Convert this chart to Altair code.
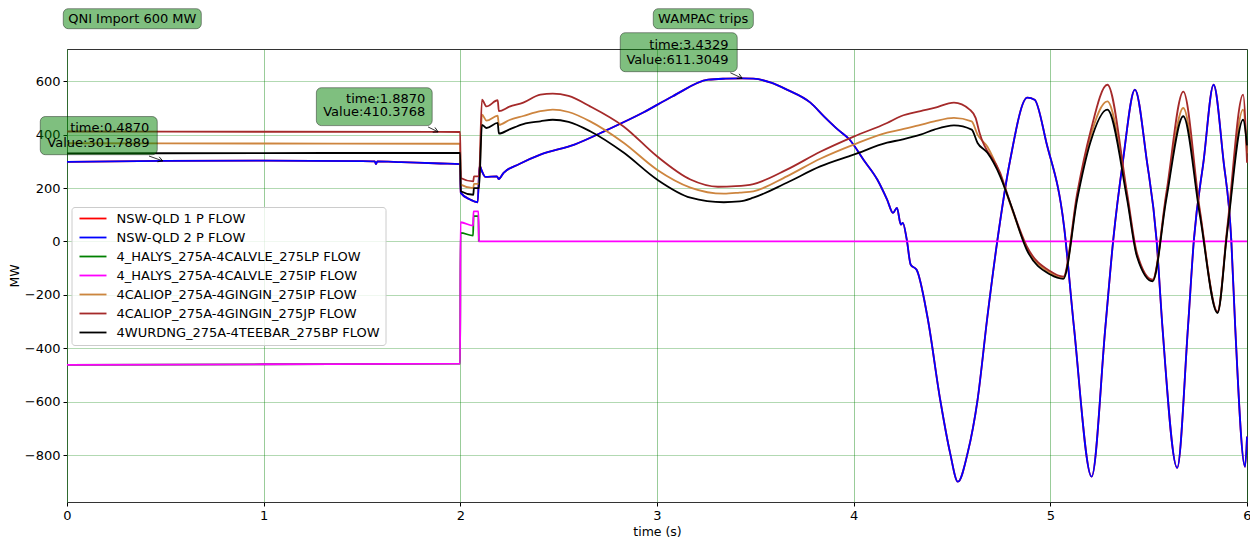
import altair as alt
import pandas as pd

# ---------------- series names and colours ----------------
SERIES = [
    "NSW-QLD 1 P FLOW",
    "NSW-QLD 2 P FLOW",
    "4_HALYS_275A-4CALVLE_275LP FLOW",
    "4_HALYS_275A-4CALVLE_275IP FLOW",
    "4CALIOP_275A-4GINGIN_275IP FLOW",
    "4CALIOP_275A-4GINGIN_275JP FLOW",
    "4WURDNG_275A-4TEEBAR_275BP FLOW",
]
COLORS = ["#ff0000", "#0000ff", "#008000", "#ff00ff", "#cd853f", "#a52a2a", "#000000"]

X_TICKS = [0, 1, 2, 3, 4, 5, 6]
Y_TICKS = [-800, -600, -400, -200, 0, 200, 400, 600]

# ---------------- values ----------------
T_BLUE = [0.0, 0.487, 1.0, 1.5, 1.565, 1.571, 1.578, 1.7, 1.9, 1.999, 2.002, 2.05, 2.088, 2.098,
          2.11, 2.127, 2.186, 2.195, 2.22, 2.3, 2.407, 2.58, 2.75, 2.93, 3.08, 3.26, 3.35, 3.4329,
          3.49, 3.58, 3.66, 3.78, 3.85, 3.92, 3.98, 4.05, 4.12, 4.17, 4.2, 4.22, 4.24, 4.25, 4.27,
          4.29, 4.32, 4.375, 4.44, 4.49, 4.53, 4.58, 4.63, 4.68, 4.73, 4.796, 4.883, 4.92, 4.98,
          5.07, 5.12, 5.21, 5.28, 5.32, 5.37, 5.43, 5.49, 5.54, 5.57, 5.645, 5.70, 5.73, 5.78,
          5.83, 5.88, 5.92, 5.94, 5.99, 6.0]
V_BLUE = [298, 301.8, 303, 301, 300, 290, 300, 297, 292, 290, 182, 157, 147, 284,
          263, 242, 244, 234, 257, 290, 325, 363, 419, 483, 544, 606, 610, 611.3,
          610, 595, 569, 520, 468, 419, 381, 306, 232, 157, 107, 126, 63, 70, 7,
          -87, -106, -282, -593, -791, -900, -791, -593, -282, 0, 306, 539, 531, 370,
          55, -320, -881, -320, 7, 306, 569, 306, 7, -320, -848, -320, 7, 306,
          587, 306, 7, -320, -844, -731]

# NSW-QLD 1 lies under NSW-QLD 2 everywhere in the picture
T_RED = list(T_BLUE)
V_RED = list(V_BLUE)

# after ~2.09 s this flow sits at 0, hidden under the IP flow
T_GREEN = [0.0, 1.0, 1.999, 2.001, 2.065, 2.067, 2.092, 2.094]
V_GREEN = [-462, -460, -458, 32, 22, 95, 95, 0]

T_MAGENTA = [0.0, 1.0, 1.999, 2.001, 2.065, 2.067, 2.092, 2.094, 6.0]
V_MAGENTA = [-462, -460, -458, 72, 59, 113, 113, 0, 0]

T_ORANGE = [0.0, 1.0, 1.999, 2.002, 2.066, 2.069, 2.095, 2.11, 2.133, 2.19, 2.196, 2.25, 2.32,
            2.407, 2.47, 2.55, 2.66, 2.83, 3.0, 3.17, 3.34, 3.42, 3.49, 3.66, 3.83, 4.0, 4.17,
            4.24, 4.34, 4.41, 4.51, 4.6, 4.63, 4.68, 4.745, 4.796, 4.88, 5.0, 5.066, 5.137,
            5.203, 5.29, 5.39, 5.44, 5.52, 5.59, 5.676, 5.76, 5.85, 5.9, 5.98, 6.0]
V_ORANGE = [368, 367, 366, 213, 200, 216, 216, 475, 453, 471, 437, 455, 470,
            488, 494, 485, 450, 370, 269, 202, 179, 183, 188, 244, 310, 363, 408,
            419, 437, 450, 463, 450, 400, 355, 250, 140, -25, -118, -137, 170,
            390, 525, 170, -50, -146, 170, 500, 110, -265, 45, 494, 330]

T_BROWN = [0.0, 1.0, 1.887, 1.999, 2.002, 2.066, 2.069, 2.095, 2.11, 2.133, 2.19, 2.196, 2.25,
           2.32, 2.407, 2.47, 2.55, 2.66, 2.83, 3.0, 3.17, 3.31, 3.40, 3.49, 3.66, 3.83, 4.0,
           4.17, 4.24, 4.34, 4.41, 4.51, 4.59, 4.62, 4.64, 4.745, 4.796, 4.88, 5.0, 5.066,
           5.137, 5.203, 5.29, 5.39, 5.44, 5.52, 5.59, 5.676, 5.76, 5.85, 5.9, 5.98, 6.0]
V_BROWN = [412, 411, 410.4, 410, 238, 225, 244, 244, 531, 506, 529, 488, 505,
           520, 550, 554, 545, 506, 431, 319, 232, 205, 207, 215, 269, 336, 393,
           444, 469, 488, 500, 520, 494, 463, 407, 257, 145, -18, -112, -132,
           183, 408, 587, 183, -42, -143, 183, 561, 119, -263, 55, 550, 295]

T_BLACK = list(T_ORANGE)
V_BLACK = [330, 331, 332, 188, 175, 200, 200, 437, 425, 444, 404, 420, 440,
           450, 456, 448, 413, 333, 232, 164, 147, 150, 164, 220, 281, 325, 370,
           381, 400, 419, 435, 419, 369, 332, 244, 144, -31, -124, -140, 160,
           370, 494, 160, -55, -149, 160, 469, 100, -268, 40, 456, 360]

SERIES_DATA = [
    (SERIES[0], T_RED, V_RED),
    (SERIES[1], T_BLUE, V_BLUE),
    (SERIES[2], T_GREEN, V_GREEN),
    (SERIES[3], T_MAGENTA, V_MAGENTA),
    (SERIES[4], T_ORANGE, V_ORANGE),
    (SERIES[5], T_BROWN, V_BROWN),
    (SERIES[6], T_BLACK, V_BLACK),
]

rows = []
for name, ts, vs in SERIES_DATA:
    assert len(ts) == len(vs), name
    for t, v in zip(ts, vs):
        rows.append({"series": name, "t": t, "v": v})
df = pd.DataFrame(rows)

# ---------------- annotations ----------------
boxes = pd.DataFrame({
    "t1": [-0.136, 1.268, 2.813, -0.019, 2.981],
    "t2": [0.459, 1.857, 3.408, 0.683, 3.490],
    "v1": [325, 434, 636, 797, 797],
    "v2": [468, 576, 782, 872, 872],
})

labels_right = pd.DataFrame({
    "text": ["time:0.4870", "Value:301.7889", "time:1.8870", "Value:410.3768",
             "time:3.4329", "Value:611.3049"],
    "t": [0.419, 0.419, 1.822, 1.822, 3.364, 3.364],
    "v": [426, 370, 534, 484, 737, 681],
})
labels_center = pd.DataFrame({
    "text": ["QNI Import 600 MW", "WAMPAC trips"],
    "t": [0.332, 3.235],
    "v": [835, 835],
})
arrows = pd.DataFrame({
    "t1": [0.417, 1.836, 3.373],
    "v1": [320, 429, 632],
    "t2": [0.487, 1.887, 3.4329],
    "v2": [301.8, 410.4, 611.3],
    "ang": [19.5, 26, 27],
})

FONT = "DejaVu Sans"

X_SCALE = alt.Scale(domain=[0, 6], nice=False, zero=False)
Y_SCALE = alt.Scale(domain=[-976, 721], nice=False, zero=False)
X_AXIS = alt.Axis(title="time (s)", values=X_TICKS, format="d", labelFlush=False,
                  gridColor="green", gridOpacity=0.4, titlePadding=3)
Y_AXIS = alt.Axis(title="MW", values=Y_TICKS, gridColor="green", gridOpacity=0.3,
                  domainColor="#2f6a2f", titlePadding=3)

LEGEND = alt.Legend(
    title=None, orient="none", legendX=4.5, legendY=158,
    symbolType="M-0.78,0H5.22", symbolSize=81, symbolStrokeWidth=1.8,
    labelFont=FONT, labelFontSize=13, labelOffset=27, labelLimit=500,
    rowPadding=5, padding=5, fillColor="rgba(255,255,255,0.8)",
    strokeColor="#cccccc", cornerRadius=3,
)
COLOR = alt.Color("series:N", scale=alt.Scale(domain=SERIES, range=COLORS), legend=LEGEND)


def X(field):
    return alt.X(f"{field}:Q", scale=X_SCALE, axis=X_AXIS)


def Y(field):
    return alt.Y(f"{field}:Q", scale=Y_SCALE, axis=Y_AXIS)


layers = []
for name in SERIES:
    layers.append(
        alt.Chart(df)
        .transform_filter(alt.datum.series == name)
        .mark_line(interpolate="monotone", strokeWidth=1.8)
        .encode(x=X("t"), y=Y("v"), color=COLOR, order=alt.Order("t:Q"))
    )

layers.append(
    alt.Chart(boxes)
    .mark_rect(fill="green", fillOpacity=0.5, stroke="black", strokeOpacity=0.4,
               strokeWidth=1, cornerRadius=5)
    .encode(x=X("t1"), x2="t2", y=Y("v1"), y2="v2")
)
layers.append(
    alt.Chart(arrows)
    .mark_rule(color="black", strokeWidth=0.8)
    .encode(x=X("t1"), x2="t2", y=Y("v1"), y2="v2")
)
layers.append(
    alt.Chart(arrows)
    .mark_point(shape="M-1,-0.55L0,0L-1,0.55", filled=False, color="black",
                strokeWidth=0.8, size=90, opacity=1)
    .encode(x=X("t2"), y=Y("v2"), angle=alt.Angle("ang:Q", scale=None))
)
layers.append(
    alt.Chart(labels_right)
    .mark_text(align="right", baseline="middle", font=FONT, fontSize=13, color="black")
    .encode(x=X("t"), y=Y("v"), text="text:N")
)
layers.append(
    alt.Chart(labels_center)
    .mark_text(align="center", baseline="middle", font=FONT, fontSize=13, color="black")
    .encode(x=X("t"), y=Y("v"), text="text:N")
)

chart = (
    alt.layer(*layers)
    .properties(
        width=1180, height=453,
        padding={"left": 67, "top": 49, "right": 3, "bottom": 35},
        autosize=alt.AutoSizeParams(type="none"),
        background="white",
    )
    .configure_view(stroke="#333333", strokeWidth=1)
    .configure_axis(
        labelFont=FONT, titleFont=FONT, labelFontSize=13, titleFontSize=12.5,
        titleFontWeight="normal", labelColor="#000000", titleColor="#000000",
        tickColor="#000000", domainColor="#333333", tickSize=4, labelPadding=3,
    )
)

chart.save("out.html", embed_options={"renderer": "svg", "actions": False})
